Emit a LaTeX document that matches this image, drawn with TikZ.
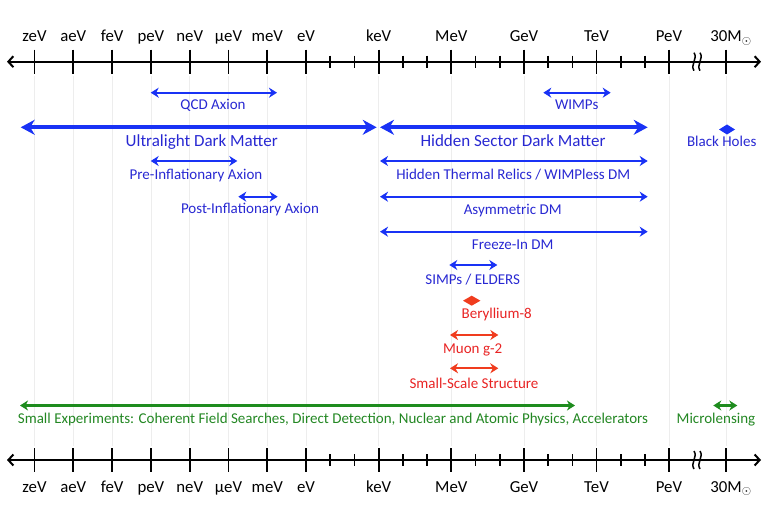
\documentclass[tikz,border=0pt]{standalone}
\usepackage{fontspec}
\setmainfont{Carlito}
\usetikzlibrary{arrows.meta}
\definecolor{bluearr}{RGB}{25,50,245}
\definecolor{bluetxt}{RGB}{40,40,210}
\definecolor{redarr}{RGB}{240,60,30}
\definecolor{redtxt}{RGB}{232,35,35}
\definecolor{greenarr}{RGB}{30,140,30}
\definecolor{greentxt}{RGB}{35,135,35}
\tikzset{
  axisline/.style={line width=2.2pt, {Straight Barb[length=5pt,width=11pt,line width=2pt]}-{Straight Barb[length=5pt,width=11pt,line width=2pt]}},
  majortick/.style={line width=1.8pt},
  minortick/.style={line width=1.6pt},
  gridln/.style={black!7, line width=0.8pt},
  axlabel/.style={anchor=base, inner sep=0pt, font=\fontsize{16.8}{18}\selectfont},
  thinarr/.style={line width=2.3pt, {Stealth[length=8pt,width=10pt,inset=2.5pt]}-{Stealth[length=8pt,width=10pt,inset=2.5pt]}},
  thickarr/.style={line width=4pt, {Stealth[length=14pt,width=15pt,inset=4.5pt]}-{Stealth[length=14pt,width=15pt,inset=4.5pt]}},
  smalllab/.style={anchor=base, inner sep=0pt, font=\fontsize{15}{17}\selectfont},
  biglab/.style={anchor=base, inner sep=0pt, font=\fontsize{17}{19}\selectfont},
  squig/.style={line width=1.5pt},
}
\begin{document}
\begin{tikzpicture}[x=1pt,y=-1pt]
\useasboundingbox (0,0) rectangle (769,505);
% gridlines
\foreach \x in {34.5,73.3,112.1,150.9,189.7,228.5,267.3,306,378.7,451.3,524,596.5,669,726}
  \draw[gridln] (\x,76) -- (\x,446);
% axes
\foreach \ay/\ly in {61.7/42, 460/492}{
  \draw[axisline] (7,\ay) -- (761,\ay);
  \foreach \x in {34.5,73.3,112.1,150.9,189.7,228.5,267.3,306,378.7,451.3,524,596.5,669,726}
    \draw[majortick] (\x,\ay-12) -- (\x,\ay+12);
  \foreach \x in {330.2,354.5,402.9,427.1,475.5,499.8,548.2,572.3,620.7,644.8}
    \draw[minortick] (\x,\ay-6) -- (\x,\ay+6);
  \foreach \dx in {694,700}
    \draw[squig] (\dx,\ay-9) .. controls (\dx+4,\ay-3) and (\dx-4,\ay+3) .. (\dx,\ay+9);
  \node[axlabel] (zeV\ay) at (34.5,\ly) {zeV};
  \node[axlabel] (aeV\ay) at (73.3,\ly) {aeV};
  \node[axlabel] (feV\ay) at (112.1,\ly) {feV};
  \node[axlabel] (peV\ay) at (150.9,\ly) {peV};
  \node[axlabel] (neV\ay) at (189.7,\ly) {neV};
  \node[axlabel] (ueV\ay) at (228.5,\ly) {μeV};
  \node[axlabel] (meV\ay) at (267.3,\ly) {meV};
  \node[axlabel] (eV\ay) at (306,\ly) {eV};
  \node[axlabel] (keV\ay) at (378.7,\ly) {keV};
  \node[axlabel] (MeV\ay) at (451.3,\ly) {MeV};
  \node[axlabel] (GeV\ay) at (524,\ly) {GeV};
  \node[axlabel] (TeV\ay) at (596.5,\ly) {TeV};
  \node[axlabel] (PeV\ay) at (669,\ly) {PeV};
  \node[axlabel] (sol\ay) at (731,\ly) {30M$_\odot$};
}
% blue ranges
\draw[thinarr, bluearr] (150.7,92.7) -- (277,92.7);
\node[smalllab, bluetxt] (qcd) at (213,109.1) {QCD Axion};
\draw[thickarr, bluearr] (20.7,127.3) -- (376.7,127.3);
\node[biglab, bluetxt] (uldm) at (201.7,146.5) {Ultralight Dark Matter};
\draw[thinarr, bluearr] (150.7,161) -- (237.3,161);
\node[smalllab, bluetxt] (pre) at (196,179.8) {Pre-Inflationary Axion};
\draw[thinarr, bluearr] (238.3,196.7) -- (277.7,196.7);
\node[smalllab, bluetxt] (post) at (250,213.8) {Post-Inflationary Axion};
\draw[thinarr, bluearr] (543.3,92.7) -- (610.7,92.7);
\node[smalllab, bluetxt] (wimps) at (576.7,109.1) {WIMPs};
\draw[thickarr, bluearr] (380,127.3) -- (647.7,127.3);
\node[biglab, bluetxt] (hsdm) at (513,146.5) {Hidden Sector Dark Matter};
\draw[thinarr, bluearr] (380,161) -- (647.7,161);
\node[smalllab, bluetxt] (htr) at (513.3,179.8) {Hidden Thermal Relics / WIMPless DM};
\draw[thinarr, bluearr] (380,196.7) -- (647.7,196.7);
\node[smalllab, bluetxt] (adm) at (512.7,214.1) {Asymmetric DM};
\draw[thinarr, bluearr] (380,231.7) -- (647.7,231.7);
\node[smalllab, bluetxt] (fidm) at (512.7,249.1) {Freeze-In DM};
\fill[bluearr] (719,129.5) -- (727,124.5) -- (735,129.5) -- (727,134.5) -- cycle;
\node[smalllab, bluetxt] (bh) at (721.7,146.5) {Black Holes};
\draw[thinarr, bluearr] (449.3,265) -- (497.3,265);
\node[smalllab, bluetxt] (simps) at (472.7,284.1) {SIMPs / ELDERS};
% red
\fill[redarr] (463,300.7) -- (471.7,295.7) -- (480.4,300.7) -- (471.7,305.7) -- cycle;
\node[smalllab, redtxt] (be8) at (496.7,318.1) {Beryllium-8};
\draw[thinarr, redarr] (450,335) -- (498.3,335);
\node[smalllab, redtxt] (muon) at (472.7,353.8) {Muon g-2};
\draw[thinarr, redarr] (450,368.3) -- (498.3,368.3);
\node[smalllab, redtxt] (sss) at (474,388.1) {Small-Scale Structure};
% green
\draw[thinarr, greenarr] (20,405.5) -- (575,405.5);
\node[smalllab, greentxt] (smallexp) at (333,423.3) {Small Experiments: Coherent Field Searches, Direct Detection, Nuclear and Atomic Physics, Accelerators};
\draw[thinarr, greenarr] (713.3,405.5) -- (737.3,405.5);
\node[smalllab, greentxt] (micro) at (716,423.3) {Microlensing};
\end{tikzpicture}
\end{document}
